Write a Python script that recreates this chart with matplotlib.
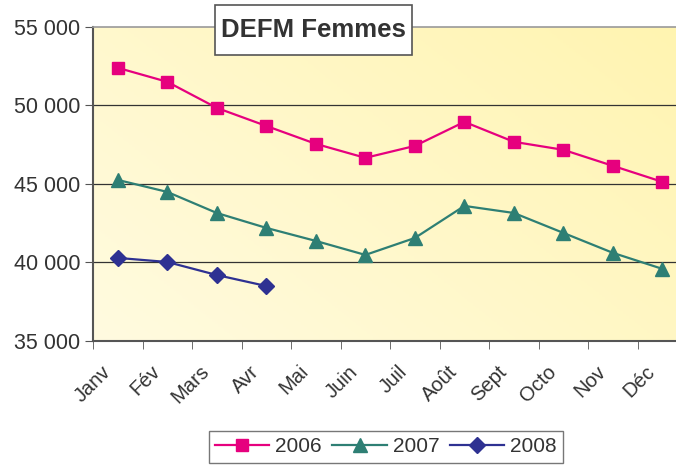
import numpy as np
import matplotlib
matplotlib.use("Agg")
import matplotlib.pyplot as plt
import matplotlib.transforms as mtransforms
from matplotlib.colors import LinearSegmentedColormap
from matplotlib.patches import Rectangle

plt.rcParams['font.family'] = ['Liberation Sans', 'DejaVu Sans']

months = ['Janv', 'Fév', 'Mars', 'Avr', 'Mai', 'Juin', 'Juil', 'Août',
          'Sept', 'Octo', 'Nov', 'Déc']
v2006 = [52390, 51500, 49840, 48690, 47550, 46660, 47420, 48950,
         47680, 47170, 46150, 45130]
v2007 = [45255, 44490, 43150, 42200, 41370, 40480, 41560, 43600,
         43150, 41880, 40610, 39590]
v2008 = [40290, 40030, 39200, 38500]
yticks = [35000, 40000, 45000, 50000, 55000]
ytick_labels = ['35 000', '40 000', '45 000', '50 000', '55 000']

fig = plt.figure(figsize=(6.76, 4.71), dpi=100)
ax = fig.add_axes([0.1376, 0.276, 0.879, 0.667])

# pale yellow gradient background
cmap = LinearSegmentedColormap.from_list('bg', ['#FFFBE0', '#FFF4B0'])
gx, gy = np.meshgrid(np.linspace(0, 1, 200), np.linspace(0, 1, 200))
ax.imshow(gx * 0.6 + gy * 0.4, cmap=cmap, origin='lower', aspect='auto',
          extent=[-0.5, 11.5, 35000, 55000], zorder=0)

for y in [40000, 45000, 50000]:
    ax.axhline(y, color='#333333', linewidth=0.9, zorder=1)

x = np.arange(len(months))
ax.plot(x, v2006, color='#E6007E', marker='s', markersize=9, linewidth=1.6,
        label='2006', zorder=3)
ax.plot(x, v2007, color='#2E7F74', marker='^', markersize=10, linewidth=1.6,
        label='2007', zorder=3)
ax.plot(x[:len(v2008)], v2008, color='#2E3192', marker='D', markersize=8,
        linewidth=1.6, label='2008', zorder=3)

ax.set_xlim(-0.5, 11.5)
ax.set_ylim(35000, 55000)
ax.set_yticks(yticks)
ax.set_yticklabels(ytick_labels, fontsize=15.5, color='#333333')
ax.tick_params(axis='y', direction='out', length=6, color='#555555', pad=3)

ax.set_xticks(x)
ax.set_xticklabels(months, rotation=45, ha='right', va='top',
                   rotation_mode='anchor', fontsize=14.5, color='#333333')
ax.tick_params(axis='x', which='major', length=0, pad=15)
shift = mtransforms.ScaledTranslation(-17 / 100, 0, fig.dpi_scale_trans)
for lab in ax.get_xticklabels():
    lab.set_transform(lab.get_transform() + shift)
ax.set_xticks(np.arange(-0.5, 12, 1), minor=True)
ax.tick_params(axis='x', which='minor', direction='out', length=6,
               color='#555555')

for s in ['left', 'bottom']:
    ax.spines[s].set_color('#555555')
    ax.spines[s].set_linewidth(1.5)
ax.spines['top'].set_color('#999999')
ax.spines['top'].set_linewidth(1.2)
ax.spines['right'].set_visible(False)

# title box
fig.patches.append(Rectangle((0.318, 0.8832), 0.2914, 0.1062,
                             transform=fig.transFigure, facecolor='white',
                             edgecolor='#555555', linewidth=1.2, zorder=5))
fig.text(0.463, 0.936, 'DEFM Femmes', fontsize=18.5, fontweight='bold',
         color='#333333', ha='center', va='center', zorder=6)

fig.legend(loc='upper center', bbox_to_anchor=(0.571, 0.107), ncol=3,
           fontsize=15, frameon=True, fancybox=False, edgecolor='#555555',
           handlelength=2.6, columnspacing=0.5, handletextpad=0.3,
           borderpad=0.3, labelcolor='#333333')

fig.savefig('out.png', dpi=100)
